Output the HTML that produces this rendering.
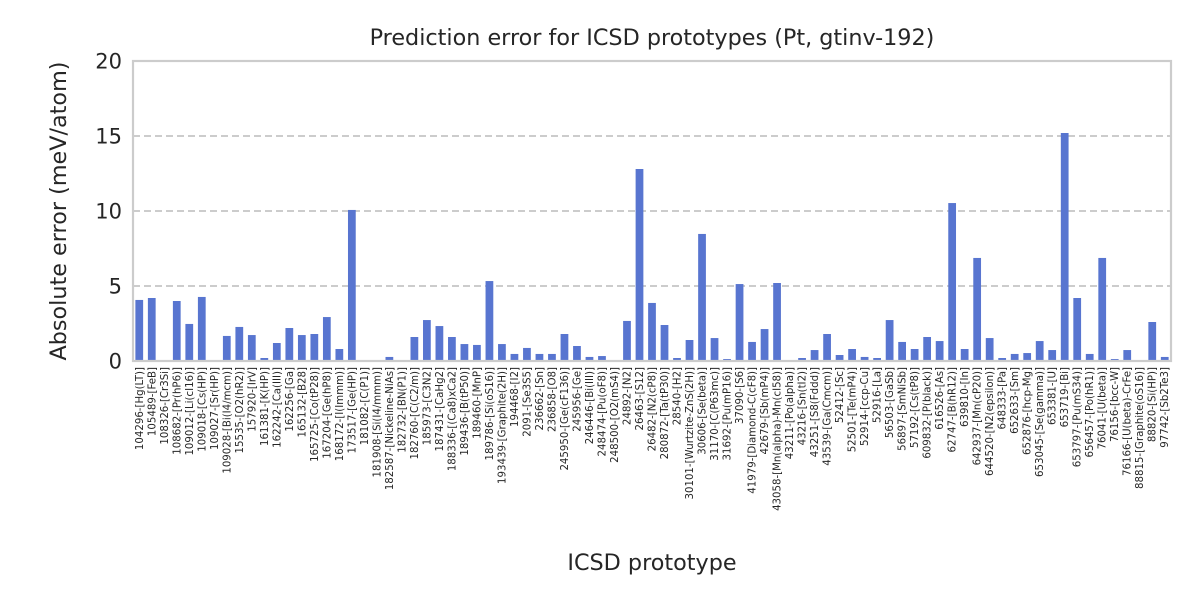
<!DOCTYPE html>
<html><head><meta charset="utf-8"><style>
html,body{margin:0;padding:0;background:#fff;}
svg{display:block;font-family:"DejaVu Sans","Liberation Sans",sans-serif;}
</style></head><body>
<svg id="chart" width="1200" height="600" viewBox="0 0 1200 600" xmlns="http://www.w3.org/2000/svg">
<rect width="1200" height="600" fill="#fff"/>
<g id="grid"></g>
<g id="bars"></g>
<g id="xticks"></g>
<g id="yticks"></g>
<rect x="133" y="61" width="1038" height="300" fill="none" stroke="#cccccc" stroke-width="2.2"/>
<text x="652" y="45" font-size="22.3" text-anchor="middle" fill="#262626">Prediction error for ICSD prototypes (Pt, gtinv-192)</text>
<text x="652" y="570" font-size="22.3" text-anchor="middle" fill="#262626">ICSD prototype</text>
<text transform="translate(66,211) rotate(-90)" font-size="22.3" text-anchor="middle" fill="#262626">Absolute error (meV/atom)</text>
</svg>
<script>
const categories = ["104296-[Hg(LT)]","105489-[FeB]","108326-[Cr3Si]","108682-[Pr(hP6)]","109012-[Li(cI16)]","109018-[Cs(HP)]","109027-[Sr(HP)]","109028-[Bi(I4/mcm)]","15535-[O2(hR2)]","157920-[IrV]","161381-[K(HP)]","162242-[Ca(III)]","162256-[Ga]","165132-[B28]","165725-[Co(tP28)]","167204-[Ge(hP8)]","168172-[I(Immm)]","173517-[Ge(HP)]","181082-[C(P1)]","181908-[Si(I4/mmm)]","182587-[Nickeline-NiAs]","182732-[BN(P1)]","182760-[C(C2/m)]","185973-[C3N2]","187431-[CaHg2]","188336-[(Ca8)xCa2]","189436-[B(tP50)]","189460-[MnP]","189786-[Si(oS16)]","193439-[Graphite(2H)]","194468-[I2]","2091-[Se3S5]","236662-[Sn]","236858-[O8]","245950-[Ge(cF136)]","245956-[Ge]","246446-[Bi(III)]","248474-[Pu(oF8)]","248500-[O2(mS4)]","24892-[N2]","26463-[S12]","26482-[N2(cP8)]","280872-[Ta(tP30)]","28540-[H2]","30101-[Wurtzite-ZnS(2H)]","30606-[Se(beta)]","31170-[C(P63mc)]","31692-[Pu(mP16)]","37090-[S6]","41979-[Diamond-C(cF8)]","42679-[Sb(mP4)]","43058-[Mn(alpha)-Mn(cI58)]","43211-[Po(alpha)]","43216-[Sn(tI2)]","43251-[S8(Fddd)]","43539-[Ga(Cmcm)]","52412-[Sc]","52501-[Te(mP4)]","52914-[ccp-Cu]","52916-[La]","56503-[GaSb]","56897-[SmNiSb]","57192-[Cs(tP8)]","609832-[P(black)]","616526-[As]","62747-[B(hR12)]","639810-[In]","642937-[Mn(cP20)]","644520-[N2(epsilon)]","648333-[Pa]","652633-[Sm]","652876-[hcp-Mg]","653045-[Se(gamma)]","653381-[U]","653719-[Bi]","653797-[Pu(mS34)]","656457-[Po(hR1)]","76041-[U(beta)]","76156-[bcc-W]","76166-[U(beta)-CrFe]","88815-[Graphite(oS16)]","88820-[Si(HP)]","97742-[Sb2Te3]"];
const errors = [4.07,4.2,0,4.0,2.47,4.27,0,1.67,2.27,1.73,0.2,1.2,2.2,1.73,1.8,2.93,0.8,10.07,0,0,0.27,0,1.6,2.73,2.33,1.6,1.13,1.07,5.33,1.13,0.47,0.87,0.47,0.47,1.8,1.0,0.27,0.33,0,2.67,12.8,3.87,2.4,0.2,1.4,8.47,1.53,0.13,5.13,1.27,2.13,5.2,0,0.2,0.73,1.8,0.4,0.8,0.27,0.2,2.73,1.27,0.8,1.6,1.33,10.53,0.8,6.87,1.53,0.2,0.47,0.53,1.33,0.73,15.2,4.2,0.47,6.87,0.13,0.73,0,2.6,0.27];
const yTicks = [0,5,10,15,20];
const gridLines = [5,10,15];

const NS="http://www.w3.org/2000/svg";
const X0=133,X1=1171,Y0=361,Y1=61,YMAX=20;
const band=(X1-X0)/categories.length;
function xc(i){return X0+band*(i+0.5);}
function y(v){return Y0-(v/YMAX)*(Y0-Y1);}
function mk(t,a){const e=document.createElementNS(NS,t);for(const k in a)e.setAttribute(k,a[k]);return e;}
const gG=document.getElementById('grid'),gB=document.getElementById('bars'),gX=document.getElementById('xticks'),gY=document.getElementById('yticks');
gridLines.forEach(v=>{
  const l=mk('line',{x1:X0,x2:X1,y1:y(v),y2:y(v),stroke:'#cccccc','stroke-width':2,'stroke-dasharray':'7,4'});
  
  
  gG.appendChild(l);
});
const bw=band*0.62;
errors.forEach((v,i)=>{
  const r=mk('rect',{x:xc(i)-bw/2,y:y(v),width:bw,height:Y0-y(v),fill:'#5875d0'});
  
  
  gB.appendChild(r);
});
categories.forEach((c,i)=>{
  const t=mk('text',{transform:`translate(${xc(i)+3.5},367) rotate(-90)`,'font-size':10.2,'text-anchor':'end',fill:'#262626'});
  t.textContent=c;
  
  
  gX.appendChild(t);
});
yTicks.forEach(v=>{
  const t=mk('text',{x:122,y:y(v)+7.5,'font-size':21,'text-anchor':'end',fill:'#262626'});
  t.textContent=v;
  
  
  gY.appendChild(t);
});
</script>
</body></html>
